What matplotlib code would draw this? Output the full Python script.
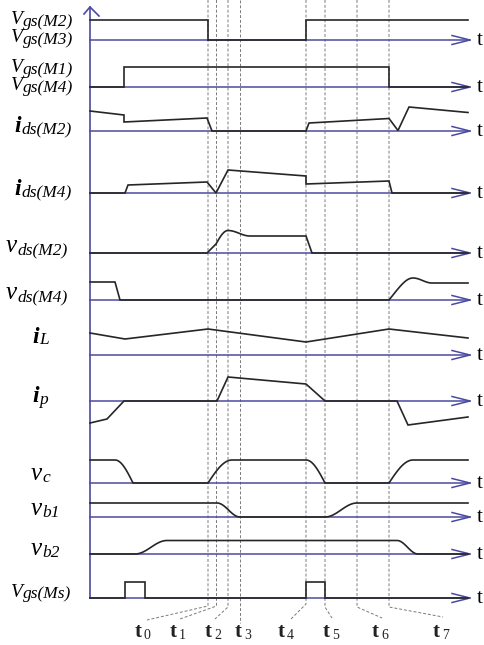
import numpy as np
import matplotlib
matplotlib.use('Agg')
import matplotlib.pyplot as plt

plt.rcParams['font.family'] = ['Liberation Serif', 'DejaVu Serif']

# ---------------- data ----------------
# switching instants t0..t7 (time axis units)
event_names = ['0', '1', '2', '3', '4', '5', '6', '7']
event_times = [208, 216.5, 228, 240, 306, 325, 357, 389]
t_start, t_end = 90, 468

# waveforms: (time, level above own zero line, shape of segment leading to point)
# shapes: 'l' linear, 'o' ease-out (fast then round), 'i' ease-in (round then fast), 's' S-curve
vgs_m2 = [(90, 20, 'l'), (208, 20, 'l'), (208, 0, 'l'), (306, 0, 'l'), (306, 20, 'l'), (468, 20, 'l')]
vgs_m1 = [(90, 0, 'l'), (124, 0, 'l'), (124, 20, 'l'), (389, 20, 'l'), (389, 0, 'l'), (468, 0, 'l')]
ids_m2 = [(90, 20, 'l'), (124, 16, 'l'), (124, 9, 'l'), (207, 13, 'l'), (212, 0, 'l'), (306, 0, 'l'),
          (309, 8, 'l'), (389, 12.5, 'l'), (398, 0.5, 'l'), (409, 24, 'l'), (468, 18.5, 'l')]
ids_m4 = [(90, 0, 'l'), (125, 0, 'l'), (128, 8, 'l'), (207, 11, 'l'), (216, 0, 'l'), (228, 23, 'l'),
          (306, 17, 'l'), (306, 9, 'l'), (389, 12, 'l'), (392, 0, 'l'), (468, 0, 'l')]
vds_m2 = [(90, 0, 'l'), (207, 0, 'l'), (216, 9, 'l'), (228, 22.5, 'o'), (250, 17, 's'),
          (306, 17, 'l'), (312, 0, 'l'), (468, 0, 'l')]
vds_m4 = [(90, 18, 'l'), (115, 18, 'l'), (120, 0, 'l'), (389, 0, 'l'), (397, 10, 'l'), (413, 22, 'o'),
          (432, 17, 's'), (468, 17, 'l')]
i_l = [(90, 22, 'l'), (125, 16, 'l'), (208, 26, 'l'), (306, 13, 'l'), (389, 26, 'l'), (468, 17, 'l')]
i_p = [(90, -22, 'l'), (107, -18, 'l'), (124, 0, 'l'), (217, 0, 'l'), (228, 24, 'l'), (306, 17, 'l'),
       (325, 0, 'l'), (397, 0, 'l'), (408, -24, 'l'), (468, -16, 'l')]
v_c = [(90, 23, 'l'), (115, 23, 'l'), (133, 0, 'i'), (208, 0, 'l'), (232, 23, 'o'), (306, 23, 'l'),
       (325, 0, 'i'), (389, 0, 'l'), (413, 23, 'o'), (468, 23, 'l')]
v_b1 = [(90, 14, 'l'), (217, 14, 'l'), (240, 0, 's'), (325, 0, 'l'), (357, 14, 's'), (468, 14, 'l')]
v_b2 = [(90, 0, 'l'), (135, 0, 'l'), (167, 13.5, 's'), (397, 13.5, 'l'), (418, 0, 's'), (468, 0, 'l')]
vgs_ms = [(90, 0, 'l'), (125, 0, 'l'), (125, 15.6, 'l'), (145, 15.6, 'l'), (145, 0, 'l'), (306, 0, 'l'),
          (306, 15.6, 'l'), (325, 15.6, 'l'), (325, 0, 'l'), (468, 0, 'l')]

waveforms = [vgs_m2, vgs_m1, ids_m2, ids_m4, vds_m2, vds_m4, i_l, i_p, v_c, v_b1, v_b2, vgs_ms]

# row labels: (main symbol, subscript)
row_labels = [
    [('V', 'gs(M2)'), ('V', 'gs(M3)')],
    [('V', 'gs(M1)'), ('V', 'gs(M4)')],
    [('i', 'ds(M2)')],
    [('i', 'ds(M4)')],
    [('v', 'ds(M2)')],
    [('v', 'ds(M4)')],
    [('i', 'L')],
    [('i', 'p')],
    [('v', 'c')],
    [('v', 'b1')],
    [('v', 'b2')],
    [('V', 'gs(Ms)')],
]

# ---------------- layout ----------------
row_base = [40, 87, 131, 193, 253, 300, 355, 401, 483, 517, 554, 598]
label_pos = [
    [(11, 24.5), (11, 42)],
    [(11, 72.5), (11, 90.5)],
    [(14, 132)],
    [(14, 195)],
    [(6, 252)],
    [(6, 299)],
    [(32, 343)],
    [(32, 402)],
    [(31, 480)],
    [(31, 515)],
    [(31, 555)],
    [(11, 597)],
]
main_style = {'V': dict(fontsize=14, style='italic'),
              'i': dict(fontsize=17, style='italic', weight='bold'),
              'v': dict(fontsize=18, style='italic')}
sub_size = {'V': 12.5, 'i': 12.5, 'v': 12.5}
sub_drop = {'V': 1.5, 'i': 1.5, 'v': 2}
event_label_x = [135, 170, 205, 235, 278, 323, 372, 433]
leader_end = [(147, 620), (180, 619), (215, 619), (240, 623), (290, 620), (332, 618), (382, 618), (443, 617)]
leader_top = [606, 606, 607, 623, 604, 607, 607, 607]

BLUE = '#4a4aa2'
BLACK = '#262626'
GRAY = '#7a7a7a'


def expand(points):
    xs, ys = [points[0][0]], [points[0][1]]
    for (x0, a0, _), (x1, a1, shp) in zip(points[:-1], points[1:]):
        if shp == 'l' or x1 == x0:
            xs.append(x1); ys.append(a1)
            continue
        u = np.linspace(0, 1, 30)[1:]
        if shp == 'o':
            f = np.sin(u * np.pi / 2)
        elif shp == 'i':
            f = 1 - np.cos(u * np.pi / 2)
        else:
            f = 0.5 - 0.5 * np.cos(u * np.pi)
        xs.extend(x0 + (x1 - x0) * u)
        ys.extend(a0 + (a1 - a0) * f)
    return np.array(xs), np.array(ys)


fig = plt.figure(figsize=(4.84, 6.45), dpi=100)
ax = fig.add_axes([0, 0, 1, 1])
ax.set_xlim(0, 484)
ax.set_ylim(645, 0)
ax.axis('off')
renderer = fig.canvas.get_renderer()

# dashed event lines with leaders
for tx, top, (ex, ey) in zip(event_times, leader_top, leader_end):
    ax.plot([tx, tx, ex], [0, top, ey], color=GRAY, lw=0.7, dashes=(3, 2))

# vertical axis with open arrow
ax.plot([t_start, t_start], [7, row_base[-1]], color=BLUE, lw=1.2)
ax.plot([84, t_start, 99], [14, 7, 16], color=BLUE, lw=1.2)

# zero lines with open arrows and 't'
for b in row_base:
    ax.plot([t_start, 470], [b, b], color=BLUE, lw=1.1)
    ax.plot([452, 470, 452], [b - 4.5, b, b + 4.5], color=BLUE, lw=1.1)
    ax.text(477, b + 5, 't', fontsize=15, color='black', ha='left', va='baseline')

# waveforms
for wf, b in zip(waveforms, row_base):
    xs, a = expand(wf)
    ax.plot(xs, b - a, color=BLACK, lw=1.2, solid_joinstyle='miter')

# row labels (symbol + subscript)
inv = ax.transData.inverted()
for labs, poss in zip(row_labels, label_pos):
    for (main, sub), (x, y) in zip(labs, poss):
        t = ax.text(x, y, main, ha='left', va='baseline', color='black', **main_style[main])
        bb = t.get_window_extent(renderer)
        xr = inv.transform((bb.x1, bb.y0))[0]
        ax.text(xr + 0.5, y + sub_drop[main], sub, fontsize=sub_size[main], style='italic',
                ha='left', va='baseline', color='black')

# event labels
for name, x in zip(event_names, event_label_x):
    t = ax.text(x, 637, 't', fontsize=15, weight='bold', ha='left', va='baseline', color='#222222')
    bb = t.get_window_extent(renderer)
    xr = inv.transform((bb.x1, bb.y0))[0]
    ax.text(xr + 2, 639, name, fontsize=10, ha='left', va='baseline', color='#222222')

fig.savefig('out.png', dpi=100)
